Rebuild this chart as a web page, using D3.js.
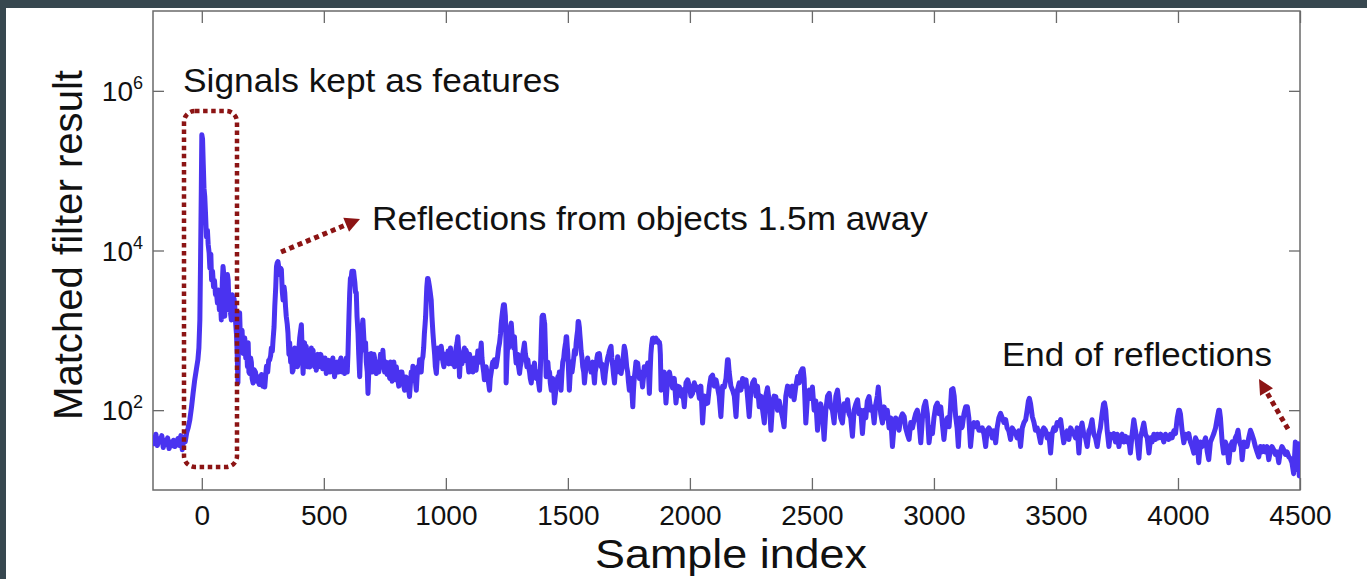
<!DOCTYPE html>
<html><head><meta charset="utf-8">
<script src="https://cdn.jsdelivr.net/npm/d3@7"></script>
<style>
html,body{margin:0;padding:0;background:#37474f;overflow:hidden;}
svg{display:block;}
text{font-family:"Liberation Sans",Arial,Helvetica,sans-serif;fill:#111;}
</style></head><body>
<svg id="chart" width="1367" height="579"></svg>
<script>
// ---------- data ----------
const xTicks = [0,500,1000,1500,2000,2500,3000,3500,4000,4500];
const yTicks = [1e2,1e4,1e6];
const yTickExponents = ["2","4","6"];
const xLabel = "Sample index";
const yLabel = "Matched filter result";
const noteFeatures = "Signals kept as features";
const noteReflections = "Reflections from objects 1.5m away";
const noteEnd = "End of reflections";

// [sample index, matched filter result]
const trace = [
[-200,45],[-194,38],[-188,50],[-182,36],[-176,44],[-170,40],[-164,48],[-158,34],[-152,42],[-146,37],[-140,45],[-134,33],[-128,40],[-122,36],[-116,42],[-110,35],[-104,39],[-98,44],[-92,36],[-86,48],[-80,32],[-74,46],[-68,40],[-62,52],[-56,60],[-49,76],[-42,110],[-36,160],[-29,240],[-22,330],[-16,430],[-12,600],[-8,1350],[-5,8000],[-2,60000],
[0,281838],[3,250000],[6,120000],[9,60000],[12,47863],[15,30000],[19,14791],[23,18000],[26,12000],[30,9333],[33,6000],[37,9000],[40,4266],[44,5500],[48,3500],[52,4200],[56,2800],[60,2951],[64,2200],[68,3200],[72,1800],[76,2400],[80,1349],[84,4000],[87,6310],[90,5000],[94,1500],[97,3500],[101,2500],[105,5000],[108,4266],[112,1800],[115,2500],[118,1600],[121,1349],[125,2800],[128,2000],[132,2500],[135,1995],[139,1200],[142,900],[145,500],[148,219],[151,1000],[155,1660],[158,800],[162,600],[165,1000],[169,513],[172,700],[176,800],[180,450],[183,631],[187,350],[190,700],[193,300],[196,288],[200,450],[203,400],[206,250],[210,219],[215,320],[220,300],[225,230],[230,263],[235,210],[240,220],[245,280],[250,200],[254,250],[258,195],[262,280],[265,355],[270,300],[274,420],[278,427],[282,480],[285,600],[289,550],[292,759],[296,1100],[299,1995],[303,3500],[306,6310],[309,7000],[312,7244],[316,6000],[319,5000],[323,6000],[326,5754],[330,3000],[333,2399],[337,3500],[340,2951],[343,2000],[346,1500],[350,1200],[353,933],[357,500],[360,700],[364,400],[367,513],[371,300],[374,316],[378,500],[381,600],[385,420],[388,513],[392,350],[395,400],[398,600],[401,800],[405,1000],[408,1175],[411,600],[415,288],[418,500],[421,700],[425,450],[428,631],[432,350],[435,400],[438,550],[442,347],[445,450],[449,600],[452,400],[456,562],[459,380],[462,350],[466,450],[469,316],[473,420],[476,500],[480,350],[483,400],[487,500],[490,468],[495,330],[500,350],[505,450],[510,288],[515,400],[520,420],[525,300],[531,372],[537,450],[541,320],[544,263],[550,350],[555,400],[560,300],[565,389],[570,450],[575,300],[580,350],[585,288],[589,380],[592,450],[596,300],[599,513],[603,1500],[606,2951],[609,4500],[612,4500],[615,5495],[618,5495],[622,5495],[625,4500],[627,4000],[630,3000],[633,2951],[636,1500],[640,933],[643,500],[647,263],[650,500],[653,800],[657,1100],[660,1349],[664,800],[667,562],[671,700],[674,400],[678,300],[681,162],[685,350],[688,500],[691,400],[694,513],[698,300],[701,350],[705,500],[708,450],[711,320],[715,288],[718,400],[722,400],[725,300],[729,350],[732,500],[735,450],[739,350],[742,562],[745,400],[749,300],[752,350],[756,400],[759,280],[763,347],[766,300],[770,250],[773,400],[777,350],[780,230],[784,300],[787,400],[790,288],[794,240],[797,350],[800,280],[803,250],[807,200],[810,240],[815,300],[820,300],[825,220],[831,178],[836,260],[841,250],[846,200],[851,148],[855,220],[858,300],[862,250],[865,355],[869,300],[872,250],[876,220],[879,178],[882,260],[885,350],[889,300],[892,427],[896,350],[899,300],[902,420],[906,468],[909,600],[912,900],[915,1200],[917,1479],[920,2500],[922,3500],[925,4467],[927,4467],[930,4000],[933,3500],[936,3000],[940,2399],[943,1500],[947,933],[950,700],[954,500],[957,350],[961,288],[964,400],[968,600],[971,500],[975,450],[978,550],[981,631],[985,500],[988,400],[992,350],[995,500],[999,450],[1002,389],[1005,450],[1009,550],[1012,380],[1015,400],[1019,600],[1022,500],[1026,380],[1029,513],[1032,450],[1036,350],[1039,450],[1042,600],[1046,700],[1049,832],[1052,600],[1056,263],[1059,400],[1063,500],[1066,380],[1070,450],[1073,550],[1076,600],[1080,420],[1083,562],[1087,500],[1090,400],[1094,300],[1097,500],[1100,450],[1104,427],[1107,350],[1111,300],[1114,380],[1117,450],[1121,350],[1124,316],[1128,420],[1131,550],[1134,450],[1138,400],[1141,500],[1145,692],[1148,450],[1152,350],[1155,300],[1158,240],[1162,280],[1165,350],[1168,300],[1172,250],[1175,220],[1179,178],[1182,250],[1186,300],[1189,350],[1192,400],[1196,350],[1199,427],[1203,380],[1206,350],[1210,420],[1213,500],[1216,600],[1220,692],[1224,900],[1227,1230],[1230,1500],[1233,1800],[1236,2089],[1240,2089],[1244,1500],[1246,800],[1247,219],[1250,400],[1254,700],[1257,600],[1261,900],[1264,1100],[1268,1230],[1271,900],[1274,800],[1278,600],[1281,832],[1285,500],[1288,389],[1291,450],[1295,500],[1298,350],[1302,288],[1305,350],[1309,400],[1312,450],[1315,500],[1319,600],[1322,692],[1326,500],[1329,450],[1332,350],[1336,427],[1339,350],[1343,300],[1346,250],[1350,219],[1353,280],[1356,350],[1360,300],[1363,389],[1366,300],[1370,250],[1373,280],[1377,300],[1380,220],[1384,178],[1387,300],[1390,600],[1392,1000],[1394,1479],[1397,1549],[1400,1549],[1403,1300],[1405,1200],[1408,600],[1411,263],[1415,350],[1418,400],[1421,300],[1425,300],[1428,220],[1432,178],[1435,220],[1438,250],[1442,180],[1445,123],[1449,160],[1452,200],[1455,230],[1459,263],[1462,220],[1465,300],[1469,220],[1472,178],[1476,300],[1479,400],[1483,450],[1486,562],[1489,650],[1491,700],[1493,832],[1495,832],[1498,600],[1500,500],[1503,300],[1506,178],[1510,300],[1513,400],[1517,300],[1520,350],[1524,450],[1527,562],[1531,500],[1534,700],[1537,850],[1540,1000],[1542,1288],[1544,1288],[1547,1100],[1549,900],[1552,700],[1554,562],[1558,450],[1561,350],[1565,300],[1568,219],[1571,280],[1575,350],[1578,400],[1581,450],[1585,350],[1588,389],[1592,350],[1595,300],[1599,350],[1602,400],[1605,300],[1609,219],[1612,300],[1616,350],[1619,450],[1622,500],[1626,400],[1629,513],[1633,400],[1636,350],[1639,380],[1643,300],[1646,250],[1650,219],[1653,280],[1657,350],[1660,400],[1663,450],[1667,500],[1670,550],[1674,600],[1677,631],[1680,450],[1684,350],[1687,280],[1691,219],[1694,300],[1697,400],[1701,350],[1704,468],[1708,380],[1711,300],[1714,350],[1718,288],[1721,330],[1725,400],[1728,500],[1731,631],[1735,550],[1738,450],[1741,350],[1745,300],[1748,230],[1752,178],[1755,220],[1759,250],[1762,180],[1766,110],[1769,180],[1772,250],[1776,320],[1779,400],[1782,300],[1786,389],[1789,320],[1793,250],[1796,280],[1800,300],[1803,240],[1806,195],[1810,260],[1813,350],[1817,280],[1820,300],[1824,350],[1827,389],[1830,300],[1834,162],[1837,300],[1840,500],[1843,650],[1847,794],[1850,800],[1854,708],[1857,780],[1861,800],[1864,720],[1868,750],[1871,700],[1875,708],[1877,650],[1879,500],[1881,250],
[1882,178],[1889,250],[1895,300],[1902,123],[1909,250],[1916,300],[1922,240],[1929,190],[1936,250],[1943,123],[1950,200],[1957,195],[1964,150],[1970,180],[1977,110],[1984,220],[1991,240],[1998,200],[2004,150],[2011,162],[2018,220],[2025,180],[2032,195],[2039,140],[2045,200],[2052,69],[2059,150],[2066,120],[2073,123],[2080,200],[2086,260],[2093,275],[2100,200],[2107,240],[2113,195],[2120,150],[2127,83],[2134,200],[2141,195],[2148,250],[2154,427],[2157,427],[2161,300],[2168,200],[2175,178],[2182,150],[2189,83],[2195,180],[2202,220],[2209,178],[2216,250],[2223,200],[2230,240],[2236,150],[2243,83],[2250,180],[2257,220],[2264,240],[2271,150],[2277,200],[2284,110],[2291,150],[2298,100],[2305,69],[2311,150],[2318,191],[2325,130],[2332,56],[2339,120],[2345,150],[2352,148],[2359,100],[2366,130],[2373,100],[2380,80],[2386,62],[2393,150],[2400,200],[2407,195],[2414,150],[2420,200],[2427,135],[2434,200],[2441,263],[2448,220],[2454,300],[2461,331],[2464,331],[2468,250],[2475,69],[2482,150],[2489,178],[2495,140],[2502,195],[2509,100],[2516,130],[2523,56],[2530,100],[2536,120],[2543,91],[2550,43],[2557,100],[2564,150],[2571,162],[2577,110],[2584,100],[2591,69],[2598,150],[2605,178],[2612,110],[2618,80],[2625,69],[2632,120],[2639,100],[2646,135],[2652,90],[2659,80],[2666,47],[2673,100],[2680,120],[2687,135],[2693,90],[2700,100],[2707,51],[2714,100],[2721,80],[2727,130],[2734,148],[2741,100],[2748,110],[2755,69],[2762,120],[2768,150],[2772,195],[2775,150],[2782,90],[2789,69],[2796,110],[2802,80],[2809,100],[2816,60],[2823,80],[2830,35],[2836,60],[2843,80],[2850,69],[2857,56],[2864,80],[2871,90],[2878,83],[2884,60],[2891,50],[2898,43],[2905,70],[2912,60],[2919,76],[2925,90],[2932,100],[2939,70],[2946,39],[2953,80],[2959,110],[2966,129],[2973,90],[2980,39],[2987,60],[2994,51],[3000,80],[3007,110],[3014,123],[3021,90],[3028,110],[3034,70],[3041,43],[3048,70],[3055,80],[3062,62],[3068,110],[3072,180],[3078,186],[3083,150],[3089,83],[3095,60],[3100,35],[3106,80],[3113,60],[3116,62],[3123,90],[3130,110],[3137,110],[3143,80],[3150,35],[3157,60],[3164,70],[3171,62],[3178,70],[3184,56],[3191,56],[3198,60],[3205,50],[3212,35],[3218,56],[3225,60],[3232,56],[3239,45],[3246,55],[3253,39],[3259,60],[3266,80],[3273,91],[3280,80],[3287,70],[3294,76],[3300,60],[3307,55],[3314,43],[3321,60],[3328,55],[3335,51],[3341,45],[3348,55],[3355,35],[3362,60],[3369,70],[3376,76],[3382,100],[3387,130],[3391,141],[3396,120],[3403,83],[3410,70],[3416,56],[3423,60],[3430,50],[3437,39],[3444,55],[3450,60],[3457,56],[3464,45],[3471,50],[3478,29],[3484,50],[3491,60],[3498,56],[3505,70],[3512,65],[3519,76],[3525,55],[3532,39],[3539,50],[3546,55],[3553,43],[3560,60],[3566,55],[3573,51],[3580,45],[3587,60],[3594,29],[3600,55],[3607,69],[3614,50],[3621,45],[3628,35],[3635,55],[3641,60],[3648,76],[3655,50],[3662,45],[3669,35],[3676,50],[3682,60],[3689,90],[3695,120],[3699,123],[3704,100],[3710,55],[3717,35],[3723,50],[3730,45],[3737,51],[3744,40],[3751,50],[3758,35],[3764,45],[3771,50],[3778,40],[3785,47],[3792,40],[3798,45],[3805,29],[3812,50],[3819,76],[3826,55],[3833,40],[3840,25],[3846,45],[3853,55],[3860,69],[3867,50],[3874,45],[3881,29],[3888,45],[3894,40],[3901,50],[3908,43],[3915,50],[3922,45],[3929,50],[3935,47],[3942,40],[3949,50],[3956,45],[3962,43],[3969,50],[3976,45],[3983,55],[3990,51],[3997,80],[4003,100],[4006,100],[4010,90],[4017,55],[4024,39],[4031,50],[4038,45],[4044,51],[4051,40],[4058,35],[4065,29],[4072,45],[4079,40],[4085,22],[4092,40],[4099,35],[4106,39],[4113,45],[4120,30],[4126,24],[4133,40],[4140,45],[4147,51],[4154,60],[4161,80],[4167,100],[4170,100],[4174,80],[4181,40],[4187,29],[4194,40],[4201,35],[4208,22],[4215,35],[4222,40],[4228,32],[4235,45],[4242,50],[4246,56],[4252,40],[4259,35],[4263,24],[4270,40],[4276,35],[4283,35],[4290,45],[4297,56],[4303,50],[4310,43],[4317,35],[4324,30],[4331,26],[4338,35],[4344,30],[4351,35],[4358,30],[4365,35],[4372,24],[4378,30],[4385,35],[4392,32],[4399,28],[4406,30],[4413,22],[4419,30],[4426,35],[4433,32],[4440,28],[4447,30],[4454,26],[4460,25],[4467,22],[4474,16],[4481,40],[4488,18],[4493,38],[4497,15],[4500,30]
];

// ---------- layout ----------
const W = 1367, H = 579;
const plot = {left:153, right:1300, top:11, bottom:490};
const svg = d3.select("#chart");

svg.append("rect").attr("x",6).attr("y",8).attr("width",W-6).attr("height",H-8).attr("fill","#ffffff");

const x = d3.scaleLinear().domain([-200,4500]).range([plot.left, plot.right]);
const y = d3.scaleLog().domain([10,1e7]).range([plot.bottom, plot.top]);

const axisColor = "#6a6a6a";
function styleAxis(g){
  g.select(".domain").remove();
  g.selectAll(".tick line").attr("stroke",axisColor).attr("stroke-width",1.3);
}

// bottom axis
const gx = svg.append("g").attr("transform",`translate(0,${plot.bottom})`)
  .call(d3.axisBottom(x).tickValues(xTicks).tickSizeInner(-12).tickSizeOuter(0).tickPadding(15).tickFormat(d3.format("d")));
styleAxis(gx);
gx.selectAll(".tick text").attr("font-size",28).attr("fill","#111").attr("font-family","Liberation Sans, Arial, sans-serif");

// top axis (ticks only)
const gxt = svg.append("g").attr("transform",`translate(0,${plot.top})`)
  .call(d3.axisTop(x).tickValues(xTicks).tickSizeInner(-12).tickSizeOuter(0).tickFormat(()=>""));
styleAxis(gxt);

// left axis
const gy = svg.append("g").attr("transform",`translate(${plot.left},0)`)
  .call(d3.axisLeft(y).tickValues(yTicks).tickSizeInner(-11).tickSizeOuter(0).tickFormat(()=>""));
styleAxis(gy);
gy.selectAll(".tick text").remove();
yTicks.forEach((v,i)=>{
  const t = svg.append("text").attr("x",143).attr("y",y(v)+10)
    .attr("text-anchor","end").attr("font-size",28);
  t.append("tspan").text("10");
  t.append("tspan").attr("font-size",18).attr("dy",-12).text(yTickExponents[i]);
});

// right axis (ticks only)
const gyr = svg.append("g").attr("transform",`translate(${plot.right},0)`)
  .call(d3.axisRight(y).tickValues(yTicks).tickSizeInner(-11).tickSizeOuter(0).tickFormat(()=>""));
styleAxis(gyr);

// frame
svg.append("rect").attr("x",plot.left).attr("y",plot.top)
  .attr("width",plot.right-plot.left).attr("height",plot.bottom-plot.top)
  .attr("fill","none").attr("stroke",axisColor).attr("stroke-width",1.5);

// clip
svg.append("clipPath").attr("id","clip").append("rect")
  .attr("x",plot.left).attr("y",plot.top).attr("width",plot.right-plot.left).attr("height",plot.bottom-plot.top);

// series
const line = d3.line().x(d=>x(d[0])).y(d=>y(d[1]));
svg.append("path").datum(trace).attr("clip-path","url(#clip)")
  .attr("d",line).attr("fill","none").attr("stroke","#4a33f0")
  .attr("stroke-width",5).attr("stroke-linejoin","round").attr("stroke-linecap","round");

// axis labels
svg.append("text").attr("x",731).attr("y",568).attr("text-anchor","middle")
  .attr("font-size",41).attr("textLength",272).attr("lengthAdjust","spacingAndGlyphs").text(xLabel);
svg.append("text").attr("transform","translate(82,245) rotate(-90)").attr("text-anchor","middle")
  .attr("font-size",40).attr("textLength",350).attr("lengthAdjust","spacingAndGlyphs").text(yLabel);

// annotations
const red = "#8c1414";
svg.append("rect").attr("x",184).attr("y",111).attr("width",53).attr("height",356)
  .attr("rx",11).attr("ry",11).attr("fill","none").attr("stroke",red)
  .attr("stroke-width",4.5).attr("stroke-dasharray","4.5,3.6");

function arrow(x1,y1,x2,y2){
  const dx=x2-x1, dy=y2-y1, L=Math.hypot(dx,dy), ux=dx/L, uy=dy/L;
  const hl=15, hw=7.5;
  const bx=x2-ux*hl, by=y2-uy*hl;
  svg.append("line").attr("x1",x1).attr("y1",y1).attr("x2",bx).attr("y2",by)
    .attr("stroke",red).attr("stroke-width",5).attr("stroke-dasharray","5,4");
  svg.append("path").attr("d",`M${x2},${y2}L${bx-uy*hw},${by+ux*hw}L${bx+uy*hw},${by-ux*hw}Z`).attr("fill",red);
}
arrow(281,252,360,219);
arrow(1288,429,1259,379);

svg.append("text").attr("x",183).attr("y",92).attr("font-size",33)
  .attr("textLength",377).attr("lengthAdjust","spacingAndGlyphs").text(noteFeatures);
svg.append("text").attr("x",372).attr("y",230).attr("font-size",33)
  .attr("textLength",556).attr("lengthAdjust","spacingAndGlyphs").text(noteReflections);
svg.append("text").attr("x",1002).attr("y",366).attr("font-size",33)
  .attr("textLength",270).attr("lengthAdjust","spacingAndGlyphs").text(noteEnd);
</script>
</body></html>
